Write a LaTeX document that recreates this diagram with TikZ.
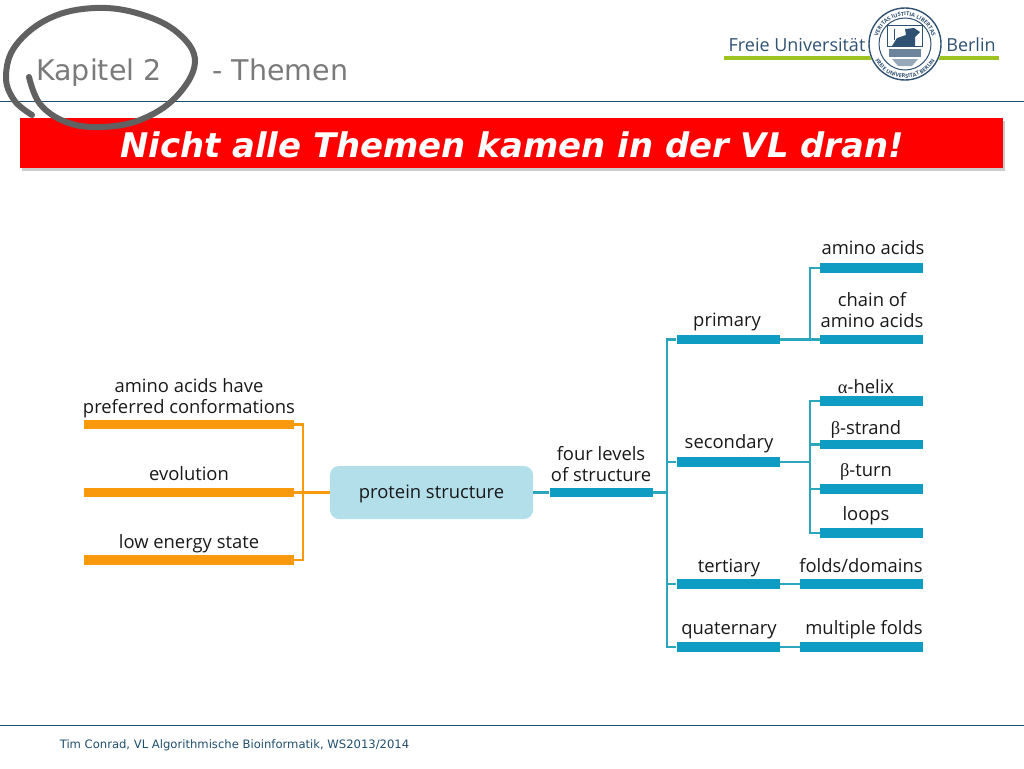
\documentclass[tikz,border=0pt]{standalone}
\usepackage{fontspec}
\setmainfont{Open Sans}
\newfontfamily\headfont{DejaVu Sans}
\newfontfamily\greekfont{Liberation Serif}
\usetikzlibrary{shadows,decorations.text}
\definecolor{barteal}{HTML}{0E9CC2}
\definecolor{lineteal}{HTML}{2BA6BC}
\definecolor{barorange}{HTML}{F99A0C}
\definecolor{boxblue}{HTML}{B3DFEB}
\definecolor{rulblue}{HTML}{1F4E6E}
\definecolor{logoblue}{HTML}{2F5172}
\definecolor{logogreen}{HTML}{9DC31F}
\tikzset{
  barT/.style={fill=barteal,inner sep=0pt,minimum height=9.5pt,minimum width=103pt},
  barL/.style={barT,minimum width=123pt},
  barO/.style={fill=barorange,inner sep=0pt,minimum height=9.5pt,minimum width=210pt},
  lnT/.style={draw=lineteal,line width=2.4pt},
  lnO/.style={draw=barorange,line width=2.4pt},
  lab/.style={font=\fontsize{18.4}{21}\selectfont,text=black!90,align=center,inner sep=0pt},
  labb/.style={lab,anchor=base},
  head/.style={font=\headfont\fontsize{28.5}{32}\selectfont,text=black!52,inner sep=0pt,anchor=base},
  rul/.style={draw=rulblue,line width=1pt}
}
\begin{document}
\begin{tikzpicture}[x=1pt,y=-1pt]
  \useasboundingbox (0,0) rectangle (1024,768);
  %kopf
  \draw[rul] (0,101) -- (1024,101);
  \draw[rul] (0,725) -- (1024,725);
  \node[head] (kapitel) at (99,81) {Kapitel 2};
  \node[head] (themen) at (280.5,81) {- Themen};
  \node[fill=red,minimum width=983pt,minimum height=50pt,inner sep=0pt,drop shadow={opacity=0.4,shadow xshift=2pt,shadow yshift=-3pt}] (banner) at (511.5,143) {};
  \node[font=\headfont\bfseries\itshape\fontsize{33.9}{40}\selectfont,text=white,inner sep=0pt] (titel) at (512,145) {Nicht alle Themen kamen in der VL dran!};
  %kreis
  \draw[line width=6pt,black!62,line cap=round] plot[smooth,tension=0.65] coordinates {(29,77) (40,104) (66,122) (100,127) (140,120) (176,97) (195,62) (178,33) (140,14) (95,8) (50,18) (16,45) (6,76) (14,100) (32,115)};
  %logo
  \node[font=\fontsize{18}{22}\selectfont,text=logoblue,inner sep=0pt] (freie) at (797,45) {Freie Universität};
  \node[font=\fontsize{18}{22}\selectfont,text=logoblue,inner sep=0pt] (berlin) at (971,45) {Berlin};
  \draw[logogreen,line width=4pt] (724,58) -- (999,58);
  \fill[white] (905,44) circle (37);
  \draw[logoblue,line width=1.4pt] (905,44) circle (36);
  \draw[logoblue,line width=1pt] (905,44) circle (26);
  \path[decorate,decoration={text along path,text align=center,text={|\fontsize{5.5}{5.5}\selectfont\bfseries\color{logoblue}|VERITAS IUSTITIA LIBERTAS}}] (877,44) arc[start angle=180,end angle=360,radius=28];
  \path[decorate,decoration={text along path,text align=center,text={|\fontsize{5.5}{5.5}\selectfont\bfseries\color{logoblue}|FREIE UNIVERSITAT BERLIN}}] (871,44) arc[start angle=180,end angle=0,radius=34];
  \draw[logoblue,fill=white,line width=1pt] (887,26) rectangle (922,47);
  \fill[logoblue] (892,46) -- (897,38) -- (906,35) -- (905,29) -- (914,28) -- (920,32) -- (915,37) -- (915,46) -- cycle;
  \draw[logoblue,line width=1pt] (894,29) -- (894,40);
  \fill[logoblue!70] (889,49) rectangle (921,57);
  \fill[logoblue!50] (892,59) -- (918,59) -- (912,66) -- (898,66) -- cycle;
  %sinistra
  \node[barO] (bconf) at (189,424.5) {};
  \node[barO] (bevol) at (189,492.5) {};
  \node[barO] (benergy) at (189,560) {};
  \node[fill=boxblue,rounded corners=9pt,minimum width=203pt,minimum height=53pt,inner sep=0pt,font=\fontsize{18.4}{21}\selectfont,text=black!90,text height=16pt,text depth=5pt] (protein) at (431.5,492.5) {protein structure};
  \coordinate (joinO) at (303,492.5);
  \draw[lnO] (bconf.east) -| (joinO);
  \draw[lnO] (benergy.east) -| (joinO);
  \draw[lnO] (bevol.east) -- (protein.west);
  \node[lab] (lconf) at (189,398) {amino acids have\\preferred conformations};
  \node[labb] (levol) at (189,480) {evolution};
  \node[labb] (lenergy) at (189,548) {low energy state};
  \node[lab] (lprotein) at (601,464) {four levels\\of structure};
  %destra
  \node[barT] (bfour) at (601,492.5) {};
  \node[barT] (bprimary) at (728,339.5) {};
  \node[barT] (bsecondary) at (728,462) {};
  \node[barT] (btertiary) at (728,584) {};
  \node[barT] (bquaternary) at (728,647) {};
  \coordinate (trunk) at (667,492.5);
  \draw[lnT] (protein.east) -- (bfour.west);
  \draw[lnT] (bfour.east) -- (trunk);
  \draw[lnT] (bprimary.west) -| (trunk);
  \draw[lnT] (bsecondary.west) -| (trunk);
  \draw[lnT] (btertiary.west) -| (trunk);
  \draw[lnT] (bquaternary.west) -| (trunk);
  %foglie
  \node[barT] (bamino) at (871.5,268) {};
  \node[barT] (bchain) at (871.5,339.5) {};
  \node[barT] (bhelix) at (871.5,401) {};
  \node[barT] (bstrand) at (871.5,444.5) {};
  \node[barT] (bturn) at (871.5,489) {};
  \node[barT] (bloops) at (871.5,533) {};
  \node[barL] (bfolds) at (861.5,584) {};
  \node[barL] (bmultiple) at (861.5,647) {};
  \coordinate (joinA) at (810,339.5);
  \coordinate (joinB) at (810,462);
  \draw[lnT] (bprimary.east) -- (bchain.west);
  \draw[lnT] (bamino.west) -| (joinA);
  \draw[lnT] (bsecondary.east) -- (joinB);
  \draw[lnT] (bhelix.west) -| (joinB);
  \draw[lnT] (bstrand.west) -| (joinB);
  \draw[lnT] (bturn.west) -| (joinB);
  \draw[lnT] (bloops.west) -| (joinB);
  \draw[lnT] (btertiary.east) -- (bfolds.west);
  \draw[lnT] (bquaternary.east) -- (bmultiple.west);
  %nomi
  \node[labb] (lprimary) at (727,326) {primary};
  \node[labb] (lsecondary) at (729,448) {secondary};
  \node[labb] (ltertiary) at (729,572) {tertiary};
  \node[labb] (lquaternary) at (729,634) {quaternary};
  \node[labb] (lamino) at (873,254) {amino acids};
  \node[lab] (lchain) at (872,310) {chain of\\amino acids};
  \node[labb] (lhelix) at (866,393) {{\greekfont α}-helix};
  \node[labb] (lstrand) at (866,434) {{\greekfont β}-strand};
  \node[labb] (lturn) at (866,476) {{\greekfont β}-turn};
  \node[labb] (lloops) at (866,520) {loops};
  \node[labb] (lfolds) at (861,572) {folds/domains};
  \node[labb] (lmultiple) at (864,634) {multiple folds};
  %piede
  \node[font=\headfont\fontsize{11.6}{14}\selectfont,text=rulblue,inner sep=0pt] (fuss) at (234.5,745) {Tim Conrad, VL Algorithmische Bioinformatik, WS2013/2014};
\end{tikzpicture}
\end{document}
